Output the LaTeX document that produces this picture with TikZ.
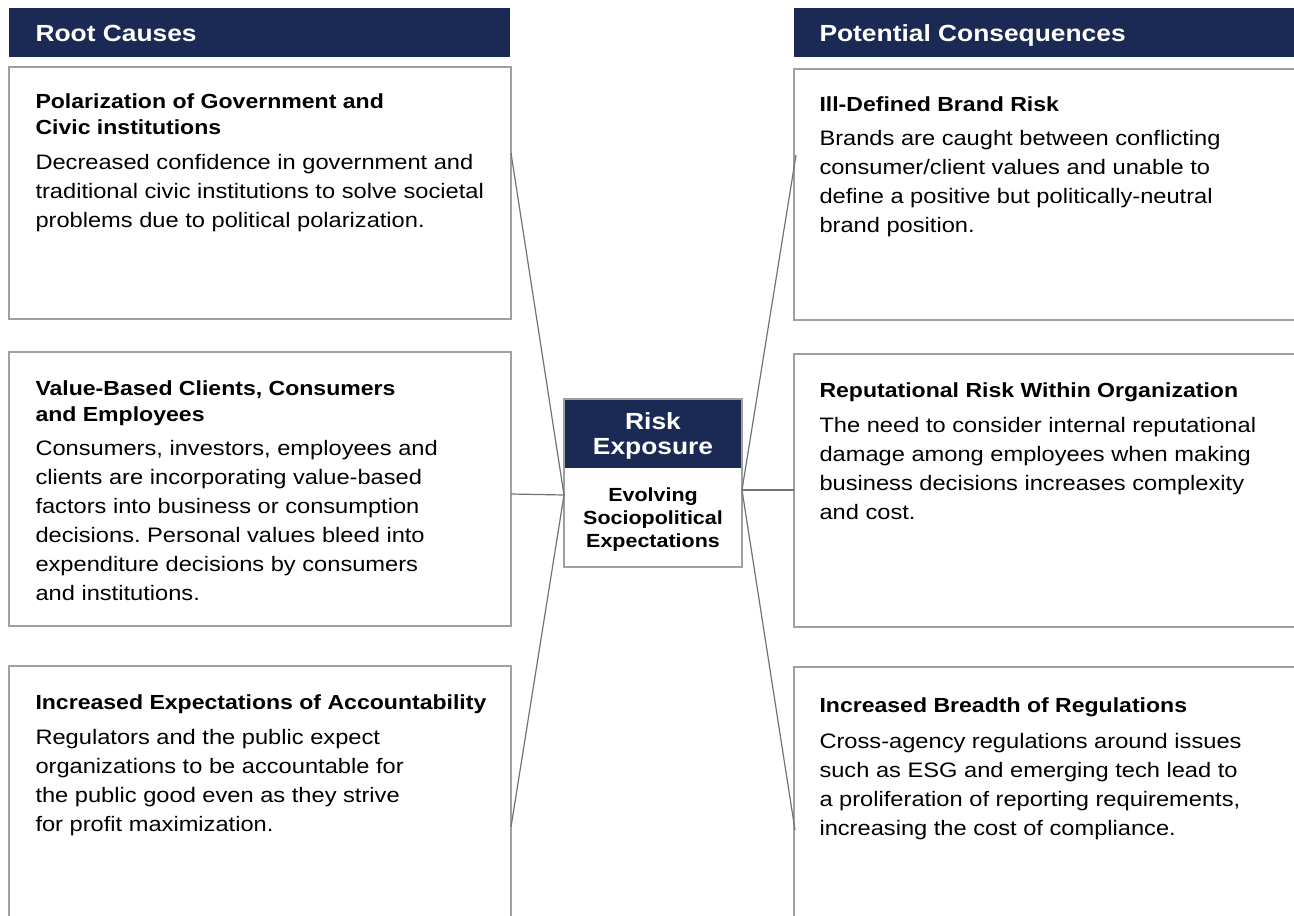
\documentclass[tikz,border=0pt]{standalone}
\usepackage{fontspec}
\setmainfont[FakeStretch=1.13]{Liberation Sans}
\frenchspacing
\definecolor{navy}{RGB}{27,42,85}
\definecolor{boxgrey}{RGB}{160,160,160}
\definecolor{linkgrey}{RGB}{110,116,117}

\tikzset{every picture/.style={line width=0.75pt}}
\tikzset{
  headtxt/.style={anchor=base west, inner sep=0, text=white, font=\fontsize{17.5}{19}\selectfont\bfseries},
  titletxt/.style={anchor=north west, inner sep=0, align=left, font=\fontsize{15.3}{19.5}\selectfont\bfseries},
  bodytxt/.style={anchor=north west, inner sep=0, align=left, font=\fontsize{15.7}{21.75}\selectfont},
  boxline/.style={draw=boxgrey, line width=1.1pt},
  linkline/.style={draw=linkgrey, line width=0.9pt}
}

\begin{document}
\begin{tikzpicture}[x=0.75pt,y=0.75pt,yscale=-1,xscale=1]
\useasboundingbox (0,0) rectangle (1294,916);
\clip (0,0) rectangle (1294,916);

%Shape: Rectangle [headers]
\fill [navy] (9,8) rectangle (510,57) ;
\fill [navy] (794,8) rectangle (1294,57) ;

% Text Node
\draw (35,42) node [headtxt] (rchead) {Root Causes};
% Text Node
\draw (819,42) node [headtxt] (pchead) {Potential Consequences};

%Shape: Rectangle [root causes]
\draw [boxline] (9,67) rectangle (511,319) ;
\draw [boxline] (9,352) rectangle (511,626) ;
\draw [boxline] (9,916) -- (9,666) -- (511,666) -- (511,916) ;

%Shape: Rectangle [consequences]
\draw [boxline] (1294,69) -- (794,69) -- (794,320) -- (1294,320) ;
\draw [boxline] (1294,354) -- (794,354) -- (794,627) -- (1294,627) ;
\draw [boxline] (794,916) -- (794,667) -- (1294,667) ;

%Shape: Rectangle [risk exposure]
\fill [navy] (564,399) rectangle (742,468) ;
\draw [boxline] (564,399) rectangle (742,567) ;

% Text Node
\draw (653,436) node [inner sep=0, align=center, text=white, font=\fontsize{17.5}{18.75}\selectfont\bfseries] (riskhead) {Risk\\Exposure};
% Text Node
\draw (653,520) node [inner sep=0, align=center, font=\fontsize{14.25}{17.25}\selectfont\bfseries] (riskbody) {Evolving\\Sociopolitical\\Expectations};

% Text Node
\draw (35,93) node [titletxt] (cause1) {Polarization of Government and\\Civic institutions};
% Text Node
\draw (35,154) node [bodytxt] (cause1txt) {Decreased confidence in government and\\traditional civic institutions to solve societal\\problems due to political polarization.};
% Text Node
\draw (35,380) node [titletxt] (cause2) {Value-Based Clients, Consumers\\and Employees};
% Text Node
\draw (35,440) node [bodytxt] (cause2txt) {Consumers, investors, employees and\\clients are incorporating value-based\\factors into business or consumption\\decisions. Personal values bleed into\\expenditure decisions by consumers\\and institutions.};
% Text Node
\draw (35,694) node [titletxt] (cause3) {Increased Expectations of Accountability};
% Text Node
\draw (35,729) node [bodytxt] (cause3txt) {Regulators and the public expect\\organizations to be accountable for\\the public good even as they strive\\for profit maximization.};

% Text Node
\draw (819,96) node [titletxt] (conseq1) {Ill-Defined Brand Risk};
% Text Node
\draw (819,130) node [bodytxt] (conseq1txt) {Brands are caught between conflicting\\consumer/client values and unable to\\define a positive but politically-neutral\\brand position.};
% Text Node
\draw (819,382) node [titletxt] (conseq2) {Reputational Risk Within Organization};
% Text Node
\draw (819,417) node [bodytxt] (conseq2txt) {The need to consider internal reputational\\damage among employees when making\\business decisions increases complexity\\and cost.};
% Text Node
\draw (819,697) node [titletxt] (conseq3) {Increased Breadth of Regulations};
% Text Node
\draw (819,733) node [bodytxt] (conseq3txt) {Cross-agency regulations around issues\\such as ESG and emerging tech lead to\\a proliferation of reporting requirements,\\increasing the cost of compliance.};

%Straight Lines [connector ends]
\coordinate (hubL) at (564,495) ;
\coordinate (hubR) at (742,490) ;
\coordinate (cause1end) at (511,153) ;
\coordinate (cause2end) at (511,494) ;
\coordinate (cause3end) at (511,827) ;
\coordinate (conseq1end) at (796,155) ;
\coordinate (conseq2end) at (794,490) ;
\coordinate (conseq3end) at (795,830) ;

%Straight Lines
\draw [linkline] (cause1end) -- (hubL) ;
\draw [linkline] (cause2end) -- (hubL) ;
\draw [linkline] (cause3end) -- (hubL) ;
\draw [linkline] (hubR) -- (conseq1end) ;
\draw [linkline] (hubR) -- (conseq2end) ;
\draw [linkline] (hubR) -- (conseq3end) ;

\end{tikzpicture}
\end{document}
